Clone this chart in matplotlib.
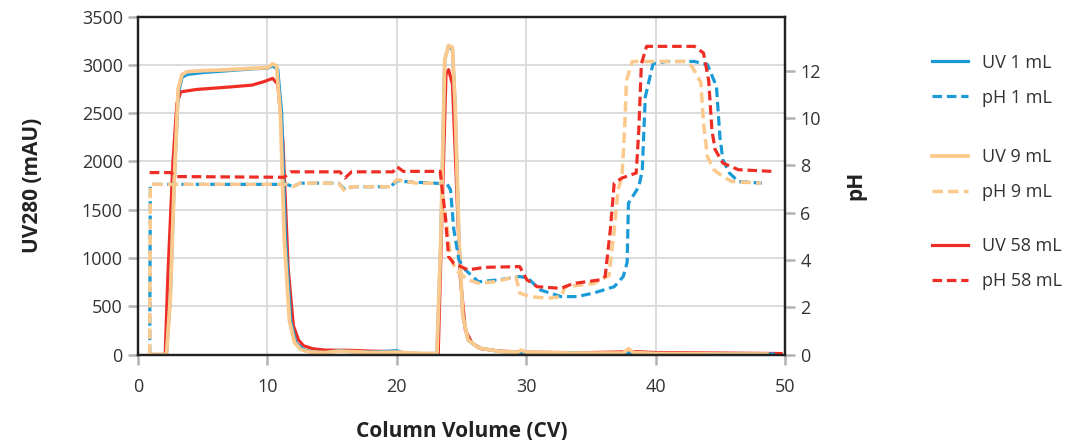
import matplotlib
matplotlib.use("Agg")
import matplotlib.pyplot as plt

plt.rcParams['font.family'] = ['Open Sans', 'DejaVu Sans']

# colours of the three load volumes
BLUE = '#1a9bd7'
ORANGE = '#fcc98c'
RED = '#ee2e24'

# UV280 traces (mAU) vs column volume
uv1_x = [0.9, 2.2, 2.5, 2.8, 3.1, 3.4, 3.8, 5, 7, 9, 10, 10.4, 10.8, 11.1, 11.4, 11.8, 12.2,
         12.8, 13.5, 14.5, 15.5, 16.5, 18, 19.5, 20, 20.5, 22, 23.1, 23.4, 23.7, 24.0, 24.3,
         24.5, 24.8, 25.1, 25.5, 26.3, 28, 29.5, 31, 33.5, 35, 37, 38, 40, 45, 49.1]
uv1_y = [0, 0, 600, 1800, 2700, 2870, 2900, 2920, 2940, 2960, 2965, 2990, 2950, 2500, 1200,
         350, 120, 50, 25, 20, 40, 30, 25, 35, 40, 15, 10, 10, 1200, 3050, 3200, 3150,
         2600, 1200, 400, 150, 70, 30, 25, 15, 20, 10, 10, 15, 10, 5, 5]

uv9_x = [0.9, 2.2, 2.5, 2.8, 3.1, 3.4, 3.8, 5, 7, 9, 10, 10.4, 10.7, 11.0, 11.3, 11.7, 12.1,
         12.6, 13.3, 14.5, 15.5, 16.5, 18, 20, 22, 23.1, 23.4, 23.7, 24.0, 24.3, 24.5, 24.8,
         25.1, 25.5, 26.3, 28, 29.3, 29.6, 30, 33.5, 37.5, 37.9, 38.3, 40, 45, 48.6]
uv9_y = [0, 0, 600, 1800, 2750, 2900, 2930, 2940, 2950, 2965, 2970, 3010, 2990, 2500, 1200,
         350, 120, 50, 25, 20, 35, 30, 20, 25, 10, 10, 1200, 3050, 3200, 3180, 2600, 1200,
         400, 150, 70, 30, 25, 45, 25, 15, 15, 60, 20, 10, 5, 5]

uv58_x = [0.9, 2.1, 2.3, 2.7, 3.0, 3.3, 4.5, 7, 8.8, 9.7, 10.4, 10.8, 11.2, 11.6, 12.0, 12.4,
          12.8, 13.5, 14.5, 16, 18, 20, 21, 23.2, 23.5, 23.8, 24.0, 24.3, 24.6, 24.9, 25.3,
          25.8, 26.5, 28, 30, 33, 35, 38.5, 40, 45, 49.7]
uv58_y = [0, 0, 800, 2000, 2600, 2720, 2745, 2770, 2790, 2825, 2860, 2800, 2200, 900, 300,
          150, 90, 60, 45, 45, 35, 30, 10, 10, 1500, 2900, 2950, 2800, 1800, 800, 250, 120,
          60, 35, 25, 20, 20, 30, 20, 15, 10]

# pH traces
ph1_x = [0.9, 0.95, 5, 11.5, 12.0, 12.5, 15.5, 16.0, 16.5, 19.5, 20.0, 21, 23.0, 23.9, 24.15,
         24.4, 24.8, 25.3, 26.3, 27.9, 29.5, 30.1, 31.1, 32.7, 33.9, 35.2, 36.8, 37.5, 37.8,
         37.9, 38.7, 38.97, 39.2, 39.8, 40.8, 43.0, 44.0, 44.7, 44.97, 45.2, 45.7, 46.4, 48.2]
ph1_y = [0, 7.2, 7.2, 7.2, 7.1, 7.25, 7.25, 6.97, 7.1, 7.1, 7.35, 7.3, 7.25, 7.2, 6.97, 5.3,
         4.0, 3.58, 3.08, 3.16, 3.3, 3.24, 2.73, 2.45, 2.45, 2.6, 2.87, 3.3, 3.9, 6.4, 7.1,
         7.8, 10.9, 12.3, 12.4, 12.4, 12.27, 11.35, 9.2, 8.24, 7.68, 7.32, 7.25]

ph9_x = [0.9, 0.95, 5, 11.5, 12.0, 12.5, 15.5, 16.0, 16.5, 19.5, 20.0, 21.5, 23.5, 23.6,
         23.9, 24.15, 24.55, 25.5, 26.3, 27.6, 29.2, 29.5, 30.3, 31.7, 32.7, 33.0, 35.2,
         36.4, 36.8, 37.1, 37.4, 37.6, 37.75, 38.2, 42.3, 42.8, 43.5, 43.7, 44.0, 44.5, 45.2,
         45.9, 48.15]
ph9_y = [0, 7.2, 7.2, 7.2, 7.1, 7.25, 7.25, 6.9, 7.1, 7.1, 7.4, 7.25, 7.25, 6.4, 5.28, 4.14,
         3.58, 3.16, 3.02, 3.08, 3.3, 2.6, 2.45, 2.38, 2.45, 2.87, 3.0, 3.35, 5.28, 6.97,
         7.53, 9.5, 11.6, 12.4, 12.4, 12.2, 11.5, 9.8, 8.38, 7.82, 7.53, 7.32, 7.25]

ph58_x = [0.9, 2.5, 3.0, 11.3, 11.8, 15.6, 16.0, 16.5, 19.7, 20.0, 20.5, 23.35, 23.75, 24.0,
          24.4, 25.5, 26.8, 29.5, 30.05, 30.85, 32.7, 33.6, 35.7, 36.1, 36.5, 36.8, 37.4,
          38.5, 38.7, 38.9, 39.3, 43.0, 43.7, 44.1, 44.35, 44.6, 45.2, 46.4, 49.0]
ph58_y = [7.7, 7.7, 7.53, 7.5, 7.73, 7.73, 7.47, 7.73, 7.73, 7.95, 7.75, 7.75, 5.84, 4.14,
          3.86, 3.58, 3.69, 3.72, 3.16, 2.87, 2.8, 3.0, 3.16, 3.3, 5.28, 7.25, 7.47, 7.68,
          9.5, 12.3, 13.04, 13.04, 12.76, 11.6, 9.5, 8.67, 8.1, 7.82, 7.75]

uv_ticks = [0, 500, 1000, 1500, 2000, 2500, 3000, 3500]
ph_ticks = [0, 2, 4, 6, 8, 10, 12]
x_ticks = [0, 10, 20, 30, 40, 50]

fig = plt.figure(figsize=(10.66, 4.4), dpi=100)
ax = fig.add_axes([0.1295, 0.1943, 0.6069, 0.768])
ax2 = ax.twinx()

lw = 2.3
dash = (0, (3.0, 1.5))
l58, = ax.plot(uv58_x, uv58_y, color=RED, lw=lw, solid_joinstyle='round')
l1, = ax.plot(uv1_x, uv1_y, color=BLUE, lw=lw, solid_joinstyle='round')
l9, = ax.plot(uv9_x, uv9_y, color=ORANGE, lw=lw + 0.4, solid_joinstyle='round')
p1, = ax2.plot(ph1_x, ph1_y, color=BLUE, lw=lw, ls=dash)
p9, = ax2.plot(ph9_x, ph9_y, color=ORANGE, lw=lw + 0.2, ls=dash)
p58, = ax2.plot(ph58_x, ph58_y, color=RED, lw=lw, ls=dash)

ax.set_xlim(0, 50)
ax.set_ylim(0, 3500)
ax2.set_ylim(0, 14.3)
ax.set_xticks(x_ticks)
ax.set_yticks(uv_ticks)
ax2.set_yticks(ph_ticks)
ax.grid(True, color='#d9d9d9', lw=1.3)
ax.set_axisbelow(True)

for a in (ax, ax2):
    for s in a.spines.values():
        s.set_color('#222222')
        s.set_linewidth(1.6)
ax.tick_params(axis='both', which='major', direction='out', length=7, width=1.8,
               color='#b3b3b3', labelsize=13, labelcolor='#333333')
ax.tick_params(axis='x', pad=10)
ax.tick_params(axis='y', pad=4)
ax2.tick_params(axis='y', direction='out', length=7, width=1.8, color='#b3b3b3',
                labelsize=13, labelcolor='#333333', pad=4)

ax.set_xlabel('Column Volume (CV)', fontsize=15, fontweight='bold', color='#222222',
              labelpad=18)
ax.set_ylabel('UV280 (mAU)', fontsize=15, fontweight='bold', color='#222222', labelpad=28)
ax2.set_ylabel('pH', fontsize=15, fontweight='bold', color='#222222', rotation=90,
               labelpad=18)

# legend split in three pairs
groups = [((l1, p1), ('UV 1 mL', 'pH 1 mL'), 0.818),
          ((l9, p9), ('UV 9 mL', 'pH 9 mL'), 0.603),
          ((l58, p58), ('UV 58 mL', 'pH 58 mL'), 0.401)]
for handles, labels, yc in groups:
    fig.legend(handles, labels, loc='center left', bbox_to_anchor=(0.874, yc),
               frameon=False, fontsize=13, handlelength=2.0, handletextpad=0.8,
               labelspacing=0.95, borderpad=0, borderaxespad=0, labelcolor='#333333')

fig.savefig('out.png', dpi=100)
